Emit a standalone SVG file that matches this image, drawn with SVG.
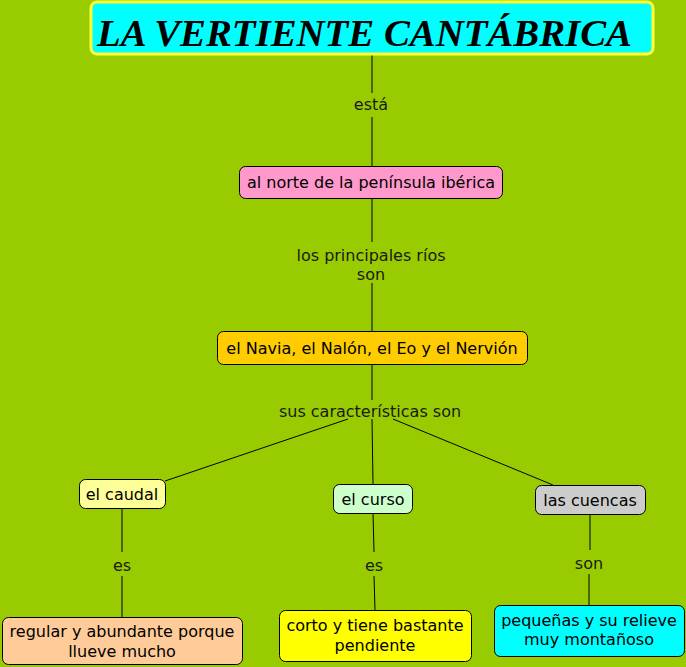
<svg xmlns="http://www.w3.org/2000/svg" width="686" height="667" viewBox="0 0 686 667">
<style>
.n{stroke:#000;stroke-width:1}
.t{font-family:"DejaVu Sans",Verdana,sans-serif;font-size:16px;fill:#000;text-anchor:middle}
.l{font-family:"DejaVu Sans",Verdana,sans-serif;font-size:16px;fill:#1a1a1a;text-anchor:middle}
.c{stroke:#000;stroke-width:1;fill:none}
</style>
<rect width="686" height="667" fill="#99CC00"/>
<g id="connectors">
<line class="c" x1="372" y1="55" x2="372" y2="93"/>
<line class="c" x1="372" y1="117" x2="372" y2="166"/>
<line class="c" x1="372" y1="198" x2="372" y2="242"/>
<line class="c" x1="372" y1="283" x2="372" y2="331"/>
<line class="c" x1="372" y1="364" x2="372" y2="400"/>
<line class="c" x1="348" y1="419" x2="165" y2="481"/>
<line class="c" x1="372" y1="419" x2="373" y2="484"/>
<line class="c" x1="393" y1="419" x2="553" y2="485"/>
<line class="c" x1="122" y1="508" x2="122" y2="552"/>
<line class="c" x1="122" y1="576" x2="122" y2="617"/>
<line class="c" x1="373" y1="513" x2="374" y2="552"/>
<line class="c" x1="374" y1="576" x2="375" y2="610"/>
<line class="c" x1="590" y1="514" x2="590" y2="550"/>
<line class="c" x1="589" y1="574" x2="589" y2="605"/>
<text class="l" x="371" y="110">está</text>
<text class="l" x="371" y="261">los principales ríos</text>
<text class="l" x="371" y="280">son</text>
<text class="l" x="370" y="417">sus características son</text>
<text class="l" x="122" y="571">es</text>
<text class="l" x="374" y="571">es</text>
<text class="l" x="589" y="569">son</text>
</g>
<g id="title">
<rect x="91" y="2" width="562" height="52" rx="6" fill="#00FFFF" stroke="#FFFF33" stroke-width="3"/>
<text x="97" y="46" font-family="'Liberation Serif','Times New Roman',serif" font-size="37" font-weight="bold" font-style="italic" textLength="535" lengthAdjust="spacingAndGlyphs">LA VERTIENTE CANTÁBRICA</text>
</g>
<g id="norte">
<rect class="n" x="239.5" y="166.5" width="263" height="32" rx="6" fill="#FF99CC"/>
<text class="t" x="371" y="188">al norte de la península ibérica</text>
</g>
<g id="rios">
<rect class="n" x="217.5" y="331.5" width="310" height="33" rx="6" fill="#FFCC00"/>
<text class="t" x="372" y="354">el Navia, el Nalón, el Eo y el Nervión</text>
</g>
<g id="caudal">
<rect class="n" x="79.5" y="479.5" width="86" height="29" rx="6" fill="#FFFF99"/>
<text class="t" x="122" y="500">el caudal</text>
</g>
<g id="curso">
<rect class="n" x="333.5" y="484.5" width="79" height="29" rx="6" fill="#CCFFCC"/>
<text class="t" x="373" y="505">el curso</text>
</g>
<g id="cuencas">
<rect class="n" x="535.5" y="485.5" width="110" height="29" rx="6" fill="#CCCCCC"/>
<text class="t" x="590" y="506">las cuencas</text>
</g>
<g id="regular">
<rect class="n" x="2.5" y="617.5" width="240" height="47" rx="6" fill="#FFCC99"/>
<text class="t" x="122" y="637">regular y abundante porque</text>
<text class="t" x="122" y="657">llueve mucho</text>
</g>
<g id="corto">
<rect class="n" x="279.5" y="610.5" width="192" height="51" rx="6" fill="#FFFF00"/>
<text class="t" x="375" y="631">corto y tiene bastante</text>
<text class="t" x="375" y="651">pendiente</text>
</g>
<g id="pequenas">
<rect class="n" x="494.5" y="605.5" width="190" height="51" rx="6" fill="#00FFFF"/>
<text class="t" x="589" y="626">pequeñas y su relieve</text>
<text class="t" x="589" y="645">muy montañoso</text>
</g>
</svg>
